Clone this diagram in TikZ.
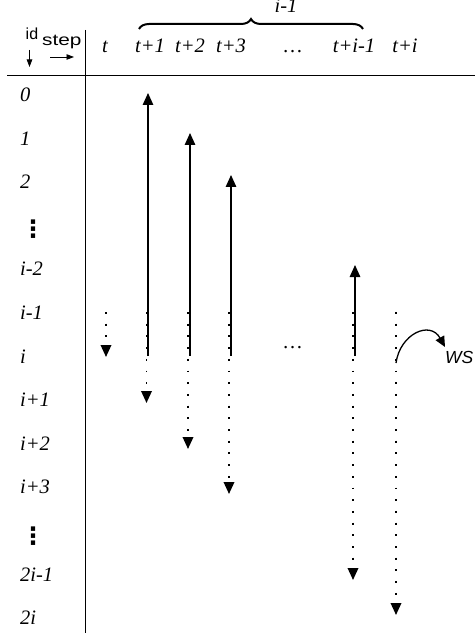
\documentclass[tikz,border=0pt]{standalone}
\usepackage{fontspec}
\setmainfont{Liberation Serif}
\newfontfamily\sansf{Liberation Sans}
\newfontfamily\dejavu{DejaVu Sans}
\usetikzlibrary{arrows.meta,decorations.pathreplacing}
\begin{document}
\begin{tikzpicture}[x=1pt,y=-1pt,
  txt/.style={font=\fontsize{20.5}{20.5}\selectfont\itshape, inner sep=0pt},
  rowlab/.style={txt, anchor=base west},
  collab/.style={txt, anchor=base},
  vdotlab/.style={font=\dejavu\bfseries\fontsize{24}{24}\selectfont, inner sep=0pt, anchor=base west},
  sml/.style={font=\sansf\fontsize{16}{16}\selectfont, inner sep=0pt, anchor=base west},
  rulel/.style={line width=0.8pt},
  uparr/.style={line width=1.3pt, -{Triangle[width=10.5pt,length=12pt]}},
  dotarr/.style={line width=1.9pt, dash pattern=on 1.9pt off 9.8pt, -{Triangle[width=10.5pt,length=12pt]}},
  smallarr/.style={line width=0.8pt, -{Triangle[width=5.5pt,length=7.5pt]}},
  bracestyle/.style={decorate, decoration={brace, amplitude=10pt}, line width=2pt},
]
\useasboundingbox (0,0) rectangle (475,636);
% frame lines
\coordinate (hl) at (7,75);
\coordinate (hr) at (475,75);
\coordinate (vt) at (85,30);
\coordinate (vb) at (85,633);
\draw[rulel] (hl) -- (hr);
\draw[rulel] (vt) -- (vb);
% corner labels
\node[sml] (id) at (25.5,40) {id};
\node[sml] (step) at (42,46) {\scalebox{1.3}[1]{step}};
\coordinate (ida) at (29.5,50);
\coordinate (idb) at (29.5,67);
\coordinate (sta) at (50,57);
\coordinate (stb) at (74,57);
\draw[smallarr] (ida) -- (idb);
\draw[smallarr] (sta) -- (stb);
% column headers
\node[collab] (ct) at (105,53) {t};
\node[collab] (ct1) at (150,53) {t+1};
\node[collab] (ct2) at (190,53) {t+2};
\node[collab] (ct3) at (231,53) {t+3};
\node[collab] (cdots) at (293,53) {\ldots};
\node[collab] (cti1) at (354,53) {t+i-1};
\node[collab] (cti) at (405,53) {t+i};
% brace
\coordinate (br1) at (139,29);
\coordinate (br2) at (363,29);
\draw[bracestyle] (br1) -- (br2);
\node[collab] (bl) at (286,13) {i-1};
% row labels
\node[rowlab] (r0) at (20,101.5) {0};
\node[rowlab] (r1) at (20,145.1) {1};
\node[rowlab] (r2) at (20,188.7) {2};
\node[vdotlab] (r3) at (21,237) {⋮};
\node[rowlab] (r4) at (20,275.9) {i-2};
\node[rowlab] (r5) at (20,319.5) {i-1};
\node[rowlab] (r6) at (20,363.1) {i};
\node[rowlab] (r7) at (20,406.7) {i+1};
\node[rowlab] (r8) at (20,450.3) {i+2};
\node[rowlab] (r9) at (20,493.9) {i+3};
\node[vdotlab] (r10) at (21,544) {⋮};
\node[rowlab] (r11) at (20,581.1) {2i-1};
\node[rowlab] (r12) at (20,624.7) {2i};
% coordinates for arrows
\coordinate (d0s) at (106,312);   \coordinate (d0e) at (106,357);
\coordinate (u1s) at (148,356);   \coordinate (u1e) at (148,93);
\coordinate (d1s) at (146.5,312); \coordinate (d1e) at (146.5,403);
\coordinate (u2s) at (190,356);   \coordinate (u2e) at (190,133);
\coordinate (d2s) at (188,312);   \coordinate (d2e) at (188,449);
\coordinate (u3s) at (231,356);   \coordinate (u3e) at (231,175);
\coordinate (d3s) at (229,312);   \coordinate (d3e) at (229,494);
\coordinate (u4s) at (355,356);   \coordinate (u4e) at (355,265);
\coordinate (d4s) at (353,312);   \coordinate (d4e) at (353,580);
\coordinate (d5s) at (396,312);   \coordinate (d5e) at (396,615);
% arrows
\draw[uparr] (u1s) -- (u1e);
\draw[uparr] (u2s) -- (u2e);
\draw[uparr] (u3s) -- (u3e);
\draw[uparr] (u4s) -- (u4e);
\draw[dotarr] (d0s) -- (d0e);
\draw[dotarr] (d1s) -- (d1e);
\draw[dotarr] (d2s) -- (d2e);
\draw[dotarr] (d3s) -- (d3e);
\draw[dotarr] (d4s) -- (d4e);
\draw[dotarr] (d5s) -- (d5e);
\node[collab] (mdots) at (293,348) {\ldots};
% WS
\node[inner sep=0pt, anchor=base west, font=\sansf\itshape\fontsize{17.5}{17.5}\selectfont] (ws) at (445,363) {WS};
\coordinate (wsa) at (396,363);
\coordinate (wsb) at (445,347);
\draw[line width=1.3pt, -{Triangle[width=9.5pt,length=10.5pt]}] (wsa) .. controls (400,334) and (430,320) .. (wsb);
\end{tikzpicture}
\end{document}
